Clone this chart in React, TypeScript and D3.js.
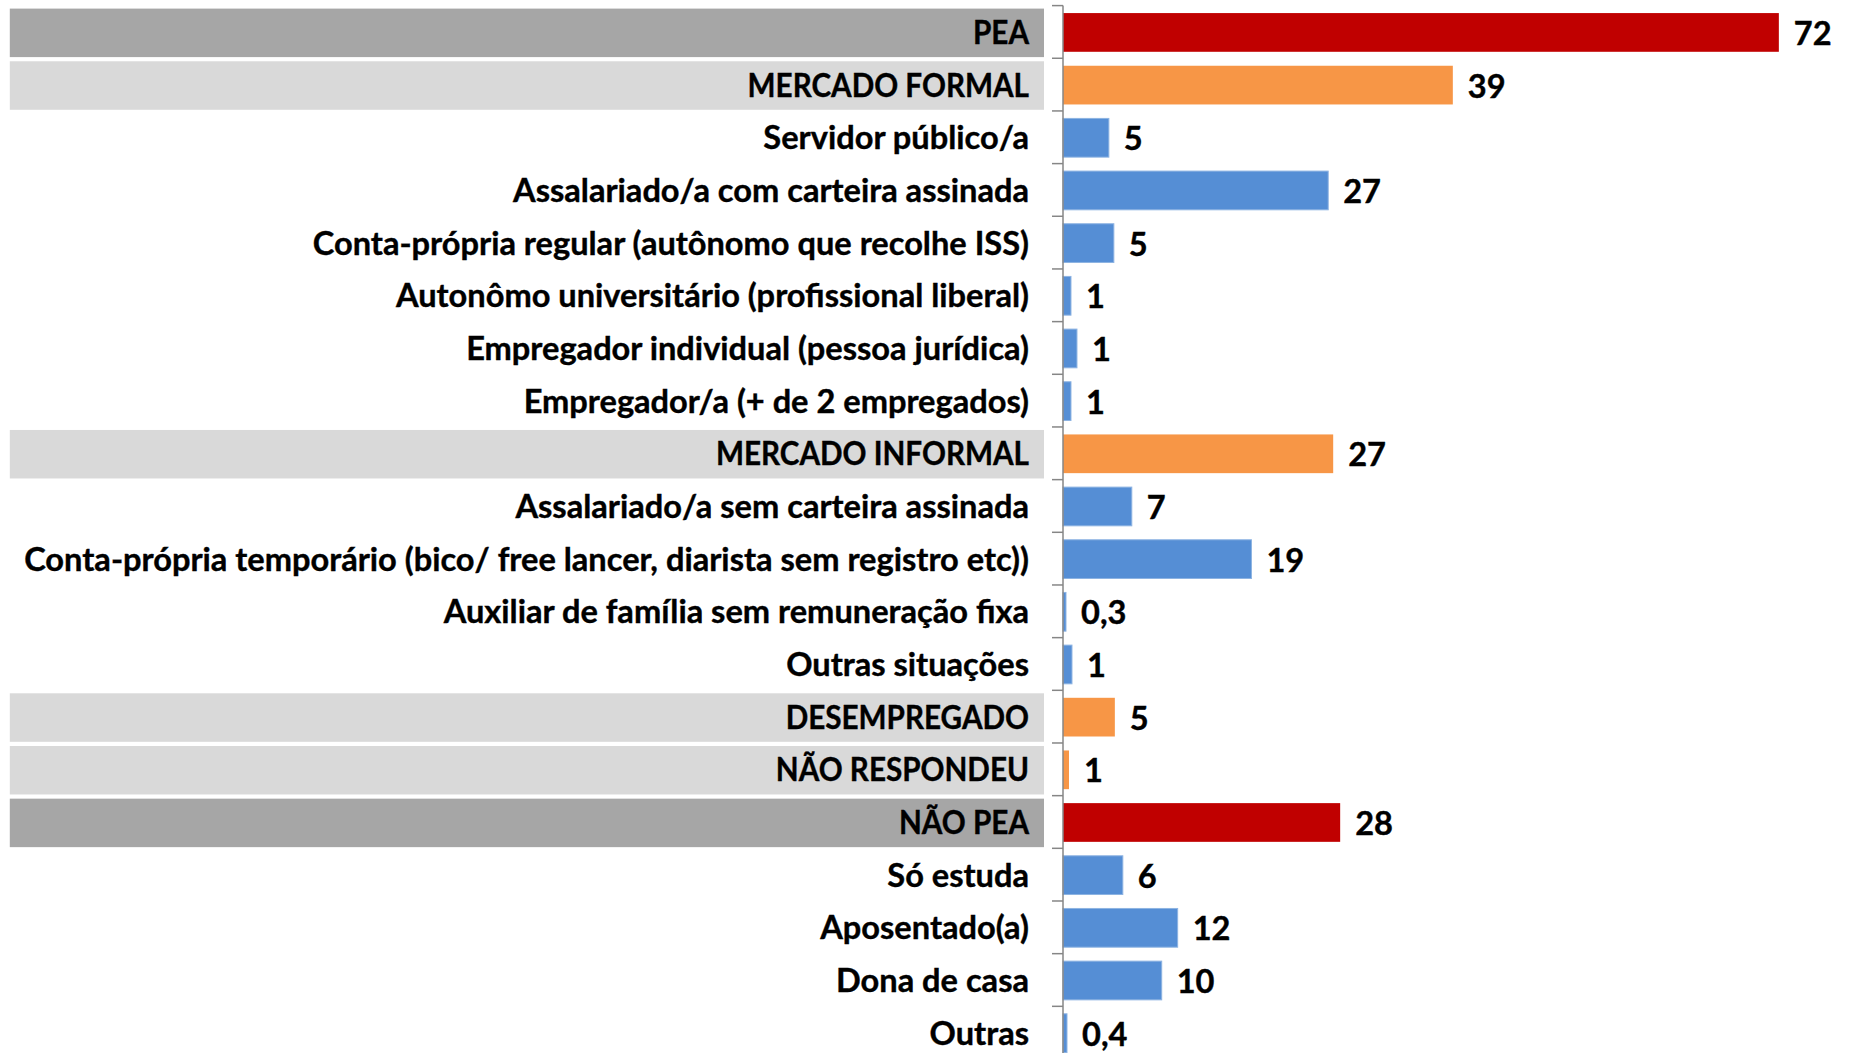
import React from "react";
import * as d3 from "d3";

const categories: string[] = [
  "PEA",
  "MERCADO FORMAL",
  "Servidor público/a",
  "Assalariado/a com carteira assinada",
  "Conta-própria regular (autônomo que recolhe ISS)",
  "Autonômo universitário (profissional liberal)",
  "Empregador individual (pessoa jurídica)",
  "Empregador/a (+ de 2 empregados)",
  "MERCADO INFORMAL",
  "Assalariado/a sem carteira assinada",
  "Conta-própria temporário (bico/ free lancer, diarista sem registro etc))",
  "Auxiliar de família sem remuneração fixa",
  "Outras situações",
  "DESEMPREGADO",
  "NÃO RESPONDEU",
  "NÃO PEA",
  "Só estuda",
  "Aposentado(a)",
  "Dona de casa",
  "Outras",
];

const values: number[] = [
  71.8, 39.1, 4.6, 26.6, 5.1, 0.8, 1.4, 0.8, 27.1, 6.9, 18.9, 0.3, 0.9, 5.2, 0.6, 27.8, 6.0, 11.5, 9.9, 0.4,
];

const valueLabels: string[] = [
  "72", "39", "5", "27", "5", "1", "1", "1", "27", "7", "19", "0,3", "1", "5", "1", "28", "6", "12", "10", "0,4",
];

// level: 0 = top total, 1 = subgroup, 2 = item
const levels: number[] = [0, 1, 2, 2, 2, 2, 2, 2, 1, 2, 2, 2, 2, 1, 1, 0, 2, 2, 2, 2];

const barColors = ["#C00000", "#F79646", "#558ED5"];
const boxColors = ["#A6A6A6", "#D9D9D9", "none"];

export default function App() {
  const W = 1849;
  const H = 1053;
  const axisX = 1063;
  const top = 5.6;
  const step = 52.67;

  const x = d3.scaleLinear().domain([0, 80]).range([axisX, axisX + 797.6]);
  const y = d3
    .scaleBand<string>()
    .domain(categories)
    .range([top, top + step * categories.length])
    .padding(0);
  const bw = y.bandwidth();
  const barH = bw * 0.735;
  const font = "Lato, 'Open Sans', sans-serif";
  const fs = 32.6;

  const ticks = [...categories.map((c) => y(c) as number), top + step * categories.length];

  return (
    <svg
      width={W}
      height={H}
      style={{ position: "absolute", left: 0, top: 0, background: "#fff" }}
    >
      {categories.map((c, i) => {
        const y0 = y(c) as number;
        const lv = levels[i];
        const cy = y0 + bw / 2 + 1;
        return (
          <g key={c}>
            {lv < 2 && (
              <rect x={9.8} y={y0 + 3} width={1044 - 9.8} height={48.5} fill={boxColors[lv]} />
            )}
            <g transform={`translate(1029,${cy}) scale(${lv < 2 ? 0.91 : 1},1)`}>
              <text
                x={0}
                y={0}
                dy="0.34em"
                textAnchor="end"
                fontFamily={font}
                fontWeight={700}
                fontSize={fs}
                fill="#000"
                stroke="#000"
                strokeWidth={0.4}
              >
                {c}
              </text>
            </g>
            <rect
              x={x(0)}
              y={y0 + (bw - barH) / 2 + 0.5}
              width={x(values[i]) - x(0)}
              height={barH}
              fill={barColors[lv]}
              stroke={lv === 2 ? "#8DB3E2" : "none"}
              strokeWidth={lv === 2 ? 1 : 0}
            />
            <text
              x={x(values[i]) + 15}
              y={y0 + bw / 2 + 2}
              dy="0.34em"
              textAnchor="start"
              fontFamily={font}
              fontWeight={700}
              fontSize={fs}
              fill="#000"
              stroke="#000"
              strokeWidth={0.4}
            >
              {valueLabels[i]}
            </text>
          </g>
        );
      })}
      <line x1={axisX} x2={axisX} y1={top} y2={H} stroke="#868686" strokeWidth={1.5} />
      {ticks.map((t, i) => (
        <line key={i} x1={axisX - 11} x2={axisX} y1={t} y2={t} stroke="#868686" strokeWidth={1.5} />
      ))}
    </svg>
  );
}
